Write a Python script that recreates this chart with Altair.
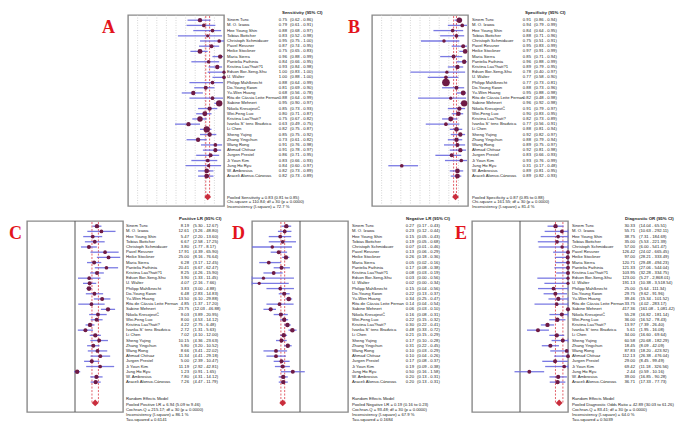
import altair as alt
import pandas as pd

STUDIES = [
    "Sinem Tunc", "M. O. Izawa", "Hee Young Shin", "Tobias Bottcher",
    "Christoph Schmidauer", "Pavel Ressner", "Heike Stockner", "Maria Sierra",
    "Pantelia Fathinia", "Kristina Lau?hatt?1", "Edson Bor-Seng-Shu", "U. Walter",
    "Philipp Mahlknecht", "Do-Young Kwon", "Yu-Wen Huang", "Rita de Cássia Leite Fernan",
    "Sabine Mehnert", "Nikola KresojeviĆ", "Wei-Feng Luo", "Kristina Lau?hatt?",
    "Ivanka S\u02c7 tenc Bradvica", "Li Chen", "Sheng Yujing", "Zhang Yingchun",
    "Wang Rong", "Ahmad Chitsaz", "Jurgen Prestel", "Ji Youn Kim", "Jung Ho Ryu",
    "W. Ambrosius", "Araceli Alonso-Cánovas",
]

SENS = [0.75, 0.79, 0.88, 0.83, 0.95, 0.87, 0.75, 0.96, 0.84, 0.93, 1.00, 1.00, 0.88, 0.81, 0.68, 0.88,
        0.95, 0.85, 0.80, 0.75, 0.63, 0.82, 0.85, 0.73, 0.91, 0.91, 0.86, 0.83, 0.84, 0.82, 0.82]
SENS_LO = [0.62, 0.61, 0.68, 0.52, 0.75, 0.74, 0.65, 0.88, 0.66, 0.84, 0.83, 0.88, 0.64, 0.69, 0.56, 0.64,
           0.90, 0.73, 0.71, 0.67, 0.49, 0.75, 0.75, 0.61, 0.76, 0.78, 0.71, 0.66, 0.60, 0.73, 0.73]
SENS_HI = [0.86, 0.91, 0.97, 0.98, 1.00, 0.95, 0.83, 0.99, 0.95, 0.98, 1.00, 1.00, 0.99, 0.90, 0.78, 0.99,
           0.97, 0.93, 0.87, 0.82, 0.75, 0.87, 0.92, 0.82, 0.98, 0.97, 0.95, 0.93, 0.97, 0.89, 0.89]

SPEC = [0.91, 0.94, 0.84, 0.88, 0.75, 0.95, 0.97, 0.85, 0.96, 0.89, 0.78, 0.77, 0.77, 0.88, 0.95, 0.82,
        0.96, 0.91, 0.90, 0.82, 0.77, 0.88, 0.92, 0.88, 0.89, 0.92, 0.83, 0.93, 0.31, 0.89, 0.89]
SPEC_LO = [0.86, 0.79, 0.64, 0.71, 0.51, 0.83, 0.91, 0.71, 0.88, 0.79, 0.40, 0.58, 0.73, 0.73, 0.88, 0.48,
           0.92, 0.79, 0.83, 0.73, 0.56, 0.81, 0.82, 0.79, 0.75, 0.81, 0.66, 0.76, 0.17, 0.81, 0.82]
SPEC_HI = [0.94, 0.99, 0.95, 0.96, 0.91, 0.99, 0.99, 0.94, 0.99, 0.95, 0.97, 0.90, 0.81, 0.96, 0.98, 0.98,
           0.98, 0.97, 0.95, 0.89, 0.91, 0.94, 0.97, 0.94, 0.97, 0.98, 0.93, 0.99, 0.48, 0.95, 0.93]

PLR = [8.19, 12.61, 5.47, 6.67, 3.80, 17.91, 25.00, 6.28, 20.41, 8.25, 3.90, 4.07, 3.83, 6.48, 13.50, 4.85,
       23.75, 9.03, 8.00, 4.22, 2.72, 7.02, 10.15, 5.80, 8.66, 11.34, 5.00, 11.19, 1.23, 7.80, 7.26]
PLR_LO = [5.30, 3.26, 2.20, 2.58, 1.77, 4.39, 8.16, 3.17, 6.67, 4.26, 1.33, 2.16, 3.00, 2.83, 6.10, 1.37,
          12.03, 3.89, 4.53, 2.75, 1.31, 4.10, 4.36, 3.20, 3.41, 4.41, 2.39, 2.92, 0.91, 4.31, 4.47]
PLR_HI = [12.67, 48.80, 13.60, 17.25, 8.17, 65.90, 76.64, 12.45, 62.47, 15.90, 11.45, 7.66, 4.88, 14.83,
          29.88, 17.20, 46.88, 20.95, 14.12, 6.48, 5.63, 12.00, 23.63, 10.52, 22.02, 29.18, 10.47, 42.81,
          1.65, 14.12, 11.79]

NLR = [0.27, 0.23, 0.15, 0.19, 0.07, 0.13, 0.26, 0.05, 0.17, 0.08, 0.03, 0.02, 0.15, 0.22, 0.34, 0.14,
       0.06, 0.16, 0.22, 0.30, 0.48, 0.21, 0.17, 0.31, 0.10, 0.10, 0.17, 0.19, 0.50, 0.20, 0.20]
NLR_LO = [0.17, 0.12, 0.05, 0.05, 0.01, 0.06, 0.18, 0.02, 0.08, 0.03, 0.00, 0.00, 0.04, 0.13, 0.25, 0.04,
          0.03, 0.08, 0.15, 0.22, 0.33, 0.15, 0.10, 0.22, 0.03, 0.04, 0.08, 0.09, 0.16, 0.13, 0.13]
NLR_HI = [0.43, 0.44, 0.43, 0.68, 0.46, 0.29, 0.36, 0.16, 0.38, 0.19, 0.56, 0.34, 0.56, 0.37, 0.47, 0.54,
          0.10, 0.31, 0.32, 0.41, 0.72, 0.29, 0.28, 0.45, 0.29, 0.26, 0.37, 0.38, 1.58, 0.31, 0.31]

DOR = [30.33, 55.71, 38.75, 35.00, 57.00, 126.42, 97.00, 120.71, 121.33, 103.95, 123.00, 191.13, 25.00,
       29.75, 39.46, 33.75, 417.36, 55.28, 36.00, 13.97, 5.61, 34.00, 60.58, 18.45, 87.83, 112.13, 29.00,
       69.42, 2.44, 39.00, 36.71]
DOR_LO = [14.04, 10.63, 7.31, 5.53, 6.00, 24.02, 28.21, 29.48, 27.06, 32.28, 5.27, 10.38, 5.64, 9.62,
          15.34, 4.02, 161.08, 16.82, 16.52, 7.39, 1.95, 16.60, 20.68, 8.09, 18.20, 26.38, 8.45, 11.18,
          0.59, 16.85, 17.33]
DOR_HI = [65.51, 292.11, 184.69, 221.39, 541.47, 665.45, 333.49, 494.23, 544.04, 334.75, 2868.01,
          3518.54, 111.34, 91.96, 101.52, 283.17, 1081.42, 181.14, 78.43, 26.40, 16.08, 69.64, 182.29,
          42.09, 423.92, 476.04, 99.49, 326.56, 10.16, 90.28, 77.73]

# study weights (marker area)
WT_A = [14, 10, 10, 8, 10, 12, 18, 14, 10, 14, 8, 10, 10, 12, 14, 10, 30, 14, 18, 22, 14, 30, 14, 14,
        10, 12, 12, 10, 8, 16, 18]
WT_B = [22, 10, 10, 10, 9, 12, 16, 12, 14, 14, 8, 10, 42, 12, 18, 8, 30, 14, 16, 18, 10, 16, 14, 14,
        12, 14, 12, 10, 10, 16, 18]
WT_C = [14, 10, 11, 11, 12, 10, 11, 12, 10, 12, 10, 12, 16, 11, 12, 10, 14, 11, 13, 14, 12, 14, 11, 12,
        11, 11, 12, 10, 14, 13, 14]
WT_D = [14, 11, 11, 10, 9, 12, 14, 11, 12, 11, 8, 8, 10, 13, 16, 10, 13, 13, 14, 15, 15, 15, 13, 14,
        11, 11, 12, 12, 12, 14, 14]
WT_E = [14, 10, 10, 10, 9, 11, 12, 11, 11, 12, 8, 8, 11, 12, 13, 10, 13, 12, 14, 14, 12, 14, 12, 13,
        10, 11, 12, 10, 11, 13, 14]

POOLED = {
    "A": (0.83, 0.81, 0.85),
    "B": (0.87, 0.85, 0.88),
    "C": (6.94, 5.09, 9.46),
    "D": (0.19, 0.16, 0.23),
    "E": (42.89, 30.03, 61.26),
}

SUMMARY = {
    "A": ["Pooled Sensitivity = 0.83 (0.81 to 0.85)",
          "Chi-square = 110.84; df = 30 (p = 0.0000)",
          "Inconsistency (I-square) = 72.7 %"],
    "B": ["Pooled Specificity = 0.87 (0.85 to 0.88)",
          "Chi-square = 161.55; df = 30 (p = 0.0000)",
          "Inconsistency (I-square) = 81.4 %"],
    "C": ["Random Effects Model",
          "Pooled Positive LR = 6.94 (5.09 to 9.46)",
          "Cochran-Q = 215.17; df = 30 (p = 0.0000)",
          "Inconsistency (I-square) = 86.1 %",
          "Tau-squared = 0.6141"],
    "D": ["Random Effects Model",
          "Pooled Negative LR = 0.19 (0.16 to 0.23)",
          "Cochran-Q = 93.48; df = 30 (p = 0.0000)",
          "Inconsistency (I-square) = 67.9 %",
          "Tau-squared = 0.1684"],
    "E": ["Random Effects Model",
          "Pooled Diagnostic Odds Ratio = 42.89 (30.03 to 61.26)",
          "Cochran-Q = 83.41; df = 30 (p = 0.0000)",
          "Inconsistency (I-square) = 64.0 %",
          "Tau-squared = 0.5039"],
}

HEADERS = {"A": "Sensitivity (95% CI)", "B": "Specificity (95% CI)", "C": "Positive LR (95% CI)",
           "D": "Negative LR (95% CI)", "E": "Diagnostic OR (95% CI)"}
AXIS_TITLES = {"A": "Sensitivity", "B": "Specificity", "C": "Positive LR", "D": "Negative LR",
               "E": "Diagnostic Odds Ratio"}
LIN_TICKS = [0, 0.2, 0.4, 0.6, 0.8, 1]
LIN_GRID = [0.1, 0.2, 0.3, 0.4, 0.5, 0.6, 0.7, 0.8, 0.9]
LOG_TICKS = [0.01, 1, 100]

# ---------------- styling / layout ----------------
W = 96
H = 191
ROW_MAX = 36.75
POOL_ROW = 35
FONT = "Liberation Sans"
FS = 4.2
CI_COLOR = "#6c6ce0"
PT_COLOR = "#6e1a44"
POOL_COLOR = "#c92d3c"
DASH_COLOR = "#e0505a"
LETTER_COLOR = "#e3141c"


def axis_for(key, log):
    common = dict(title=AXIS_TITLES[key], grid=False, domain=False, tickSize=2, tickColor="#777",
                  labelFontSize=4.6, labelFont=FONT, labelColor="#333", labelPadding=1,
                  titleFontSize=5, titleFont=FONT, titleFontWeight="bold", titlePadding=1,
                  titleColor="#222")
    if log:
        return alt.Axis(values=LOG_TICKS,
                        labelExpr="datum.value < 0.1 ? '0.01' : (datum.value < 10 ? '1' : '100.0')",
                        **common)
    return alt.Axis(values=LIN_TICKS,
                    labelExpr="datum.value == 0 ? '0' : (datum.value == 1 ? '1' : replace(format(datum.value, '.1f'), '0.', '.'))",
                    **common)


def make_panel(key, est, lo, hi, wt, log, letter_dx, name_dx, val_dx, ci_dx, hdr_dx, thousands=False):
    lim_lo, lim_hi = (0.01, 100.0) if log else (0.0, 1.0)
    fmt = "{:,.2f}" if thousands else "{:.2f}"
    rows = list(range(1, len(STUDIES) + 1))
    df = pd.DataFrame({
        "study": STUDIES, "row": rows, "est": est, "lo": lo, "hi": hi, "w": wt,
    })
    df["est_c"] = df["est"].clip(lim_lo, lim_hi)
    df["lo_c"] = df["lo"].clip(lim_lo, lim_hi)
    df["hi_c"] = df["hi"].clip(lim_lo, lim_hi)
    df["val_txt"] = [fmt.format(v) for v in est]
    df["ci_txt"] = ["(" + fmt.format(a) + " - " + fmt.format(b) + ")" for a, b in zip(lo, hi)]

    clipped = [(lim_lo, r) for r, a in zip(rows, lo) if a < lim_lo] + \
              [(lim_hi, r) for r, b in zip(rows, hi) if b > lim_hi]
    df_clip = pd.DataFrame({"x": [c[0] for c in clipped], "row": [c[1] for c in clipped]})

    p, plo, phi = POOLED[key]
    df_pool = pd.DataFrame({"est": [p], "row": [POOL_ROW]})
    df_dash = pd.DataFrame({"x": [plo, phi], "y0": [0.2, 0.2], "y1": [POOL_ROW, POOL_ROW]})

    lines = SUMMARY[key]
    if len(lines) == 3:
        srows = [35.25 + 0.8 * i for i in range(3)]
    else:
        srows = [34.3 + 1.02 * i for i in range(5)]
    df_sum = pd.DataFrame({"t": lines, "row": srows})

    ys = alt.Scale(domain=[0, ROW_MAX], reverse=True, nice=False, zero=False)
    ax = axis_for(key, log)
    if log:
        xs = alt.Scale(type="log", domain=[lim_lo, lim_hi], nice=False)
        base = alt.Chart(pd.DataFrame({"g": [1.0]})).mark_rule(color="#555555", strokeWidth=1).encode(
            x=alt.X("g:Q", scale=xs, axis=ax))
    else:
        xs = alt.Scale(domain=[lim_lo, lim_hi], nice=False, zero=False)
        base = alt.Chart(pd.DataFrame({"g": LIN_GRID})).mark_rule(
            color="#c4c4c4", strokeDash=[1, 1.5], strokeWidth=0.7).encode(
            x=alt.X("g:Q", scale=xs, axis=ax))

    dash = alt.Chart(df_dash).mark_rule(color=DASH_COLOR, strokeDash=[2, 1.5], strokeWidth=0.9).encode(
        x=alt.X("x:Q", scale=xs, axis=None),
        y=alt.Y("y0:Q", scale=ys, axis=None), y2="y1:Q")

    ci = alt.Chart(df).mark_rule(color=CI_COLOR, strokeWidth=1.3, opacity=0.9).encode(
        x=alt.X("lo_c:Q", scale=xs, axis=None), x2="hi_c:Q",
        y=alt.Y("row:Q", scale=ys, axis=None))

    layers = [base, dash, ci]
    if len(df_clip):
        clip = alt.Chart(df_clip).mark_tick(orient="vertical", size=4, thickness=1, color=CI_COLOR).encode(
            x=alt.X("x:Q", scale=xs, axis=None), y=alt.Y("row:Q", scale=ys, axis=None))
        layers.append(clip)

    pts = alt.Chart(df).mark_point(filled=True, shape="circle", color=PT_COLOR, opacity=1).encode(
        x=alt.X("est_c:Q", scale=xs, axis=None), y=alt.Y("row:Q", scale=ys, axis=None),
        size=alt.Size("w:Q", scale=alt.Scale(domain=[0, 40], range=[0, 54]), legend=None))
    pool = alt.Chart(df_pool).mark_point(filled=True, shape="diamond", color=POOL_COLOR, size=46,
                                         opacity=1).encode(
        x=alt.X("est:Q", scale=xs, axis=None), y=alt.Y("row:Q", scale=ys, axis=None))

    txt = dict(fontSize=FS, font=FONT, color="#222222", baseline="middle")
    names = alt.Chart(df).mark_text(align="left", **txt).encode(
        x=alt.value(W + name_dx), y=alt.Y("row:Q", scale=ys, axis=None), text="study:N")
    vals = alt.Chart(df).mark_text(align="right", **txt).encode(
        x=alt.value(W + val_dx), y=alt.Y("row:Q", scale=ys, axis=None), text="val_txt:N")
    cis = alt.Chart(df).mark_text(align="left", **txt).encode(
        x=alt.value(W + ci_dx), y=alt.Y("row:Q", scale=ys, axis=None), text="ci_txt:N")
    summ = alt.Chart(df_sum).mark_text(align="left", **txt).encode(
        x=alt.value(W + name_dx), y=alt.Y("row:Q", scale=ys, axis=None), text="t:N")
    hdr = alt.Chart(pd.DataFrame({"t": [HEADERS[key]]})).mark_text(
        align="left", baseline="bottom", fontSize=4.4, font=FONT, fontWeight="bold", color="#222").encode(
        x=alt.value(W + hdr_dx), y=alt.value(-0.5), text="t:N")
    let = alt.Chart(pd.DataFrame({"t": [key]})).mark_text(
        align="right", baseline="alphabetic", fontSize=18, font="Liberation Serif", fontWeight="bold",
        color=LETTER_COLOR).encode(x=alt.value(letter_dx), y=alt.value(18), text="t:N")

    layers += [pts, pool, names, vals, cis, summ, hdr, let]
    return alt.layer(*layers).properties(
        width=W, height=H, view=alt.ViewBackground(stroke="#8a8a8a", strokeWidth=1.4))


def spacer(w, ghost=False):
    if ghost:
        # invisible copy of the left-most letter so that both rows share the same left bound
        mark = alt.Chart(pd.DataFrame({"t": ["C"]})).mark_text(
            align="right", baseline="alphabetic", fontSize=18, font="Liberation Serif",
            fontWeight="bold", opacity=0).encode(x=alt.value(-5), y=alt.value(18), text="t:N")
    else:
        mark = alt.Chart(pd.DataFrame({"a": [0]})).mark_point(opacity=0, size=1).encode(
            x=alt.value(0), y=alt.value(0))
    return mark.properties(width=w, height=H, view=alt.ViewBackground(stroke="transparent"))


pA = make_panel("A", SENS, SENS_LO, SENS_HI, WT_A, False, -13, 3, 63, 66, 58)
pB = make_panel("B", SPEC, SPEC_LO, SPEC_HI, WT_B, False, -12, 4, 63, 66, 57)
pC = make_panel("C", PLR, PLR_LO, PLR_HI, WT_C, True, -5, 3, 66, 70, 56)
pD = make_panel("D", NLR, NLR_LO, NLR_HI, WT_D, True, -7, 4, 66, 69, 58)
pE = make_panel("E", DOR, DOR_LO, DOR_HI, WT_E, True, -5, 4, 67, 71, 57, thousands=True)

top = alt.hconcat(spacer(101, ghost=True), pA, spacer(148), pB, spacing=0, bounds="flush")
bottom = alt.hconcat(pC, spacer(129), pD, spacer(124), pE, spacing=0, bounds="flush")

chart = alt.vconcat(top, bottom, spacing=4).properties(
    padding={"left": 0, "top": 0, "right": 0, "bottom": 0}, background="white")

chart.save("out.html", embed_options={"renderer": "svg", "actions": False})
